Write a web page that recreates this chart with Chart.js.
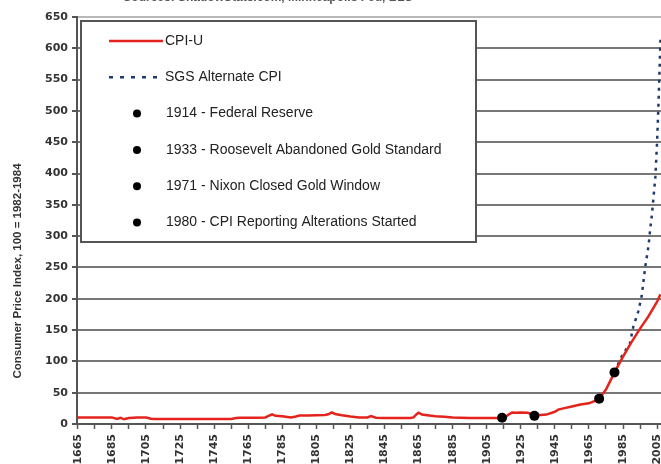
<!DOCTYPE html>
<html>
<head>
<meta charset="utf-8">
<script src="https://cdn.jsdelivr.net/npm/chart.js@4.4.1/dist/chart.umd.min.js"></script>
<style>
html, body { margin: 0; padding: 0; background: #fff; overflow: hidden; }
#wrap { width: 661px; height: 464px; position: relative; overflow: hidden; }
</style>
</head>
<body>
<div id="wrap"><canvas id="chart" width="666" height="464"></canvas></div>
<script>
// CPI-U, 100 = 1982-1984
var cpiYears = [1665, 1670, 1675, 1680, 1685, 1688, 1690, 1692, 1695, 1700, 1705, 1708, 1710, 1720, 1730, 1740,
	1750, 1755, 1758, 1760, 1765, 1770, 1775, 1777, 1779, 1781, 1785, 1790, 1793, 1795, 1800, 1805, 1810, 1812,
	1814, 1816, 1820, 1825, 1830, 1835, 1837, 1840, 1845, 1850, 1855, 1860, 1862, 1864, 1865, 1867, 1870, 1875,
	1880, 1885, 1890, 1895, 1900, 1905, 1910, 1914, 1916, 1918, 1920, 1922, 1925, 1929, 1931, 1933, 1935, 1940,
	1945, 1947, 1950, 1955, 1960, 1965, 1970, 1971, 1975, 1980, 1985, 1990, 1995, 2000, 2005, 2007];
var cpiValues = [10.5, 10.5, 10.5, 10.5, 10.5, 8, 10, 7.5, 9.5, 10.5, 10.5, 8.5, 8, 8, 8, 8,
	8, 8, 9.5, 10, 10, 10, 10.5, 13, 15.5, 13, 12.5, 10.5, 12, 13.5, 13.5, 14, 14.5, 15.5,
	18.5, 16, 14, 12, 10.5, 10.5, 12.5, 10, 9.5, 9.5, 9.5, 9.5, 10.5, 16, 18, 15, 14, 12.5,
	11.5, 10.5, 10, 9.5, 9.5, 9.5, 9.5, 10, 11, 15.5, 18.5, 18, 18.5, 18, 16, 13, 14, 15,
	19.5, 23, 25, 28, 31, 33, 38.5, 40.5, 55, 82.4, 107.6, 130.7, 152.4, 172.2, 195.3, 207.3];

// SGS Alternate CPI
var sgsYears = [1980, 1983, 1985, 1987, 1989, 1991, 1994, 1996, 1998, 2000, 2001, 2002, 2003, 2004, 2005, 2006, 2007];
var sgsValues = [82.4, 101, 112, 120, 128, 155, 180, 205, 250, 285, 312, 335, 365, 395, 450, 525, 615];

// marked events
var eventYears = [1914, 1933, 1971, 1980];
var eventValues = [10, 13, 40.5, 82.4];
var eventNames = ['1914 - Federal Reserve', '1933 - Roosevelt Abandoned Gold Standard',
	'1971 - Nixon Closed Gold Window', '1980 - CPI Reporting Alterations Started'];

// axis ticks
var tickYears = [1665, 1675, 1685, 1695, 1705, 1715, 1725, 1735, 1745, 1755, 1765, 1775, 1785, 1795, 1805,
	1815, 1825, 1835, 1845, 1855, 1865, 1875, 1885, 1895, 1905, 1915, 1925, 1935, 1945, 1955, 1965, 1975,
	1985, 1995, 2005];
var tickLabels = ['1665', '1685', '1705', '1725', '1745', '1765', '1785', '1805', '1825', '1845', '1865',
	'1885', '1905', '1925', '1945', '1965', '1985', '2005'];

var sourceText = 'Sources: ShadowStats.com, Minneapolis Fed, BLS';
var yTitle = 'Consumer Price Index, 100 = 1982-1984';

var toPoints = function(xs, ys) {
	return xs.map(function(x, i) { return {x: x, y: ys[i]}; });
};

var datasets = [
	{label: 'CPI-U', data: toPoints(cpiYears, cpiValues), borderColor: '#e3231c', borderWidth: 2.5,
		pointRadius: 0, order: 2, legendType: 'line'},
	{label: 'SGS Alternate CPI', data: toPoints(sgsYears, sgsValues), borderColor: '#1d3b6e', borderWidth: 2.5,
		borderDash: [3, 5], pointRadius: 0, order: 3, legendType: 'dash'}
];
eventYears.forEach(function(yr, i) {
	datasets.push({label: eventNames[i], data: [{x: yr, y: eventValues[i]}], showLine: false,
		pointRadius: 5, pointBackgroundColor: '#000', pointBorderWidth: 0, order: 1, legendType: 'dot'});
});

var decor = {
	id: 'decor',
	afterDraw: function(chart) {
		var ctx = chart.ctx, area = chart.chartArea;
		ctx.save();
		// source line, cut off at the top
		ctx.fillStyle = '#555';
		ctx.font = 'bold 12px "Liberation Sans", Arial, sans-serif';
		ctx.textAlign = 'center';
		ctx.textBaseline = 'middle';
		ctx.fillText(sourceText, 268, -2);

		// y axis title
		ctx.translate(18, 271);
		ctx.rotate(-Math.PI / 2);
		ctx.fillStyle = '#333';
		ctx.font = 'bold 11.5px "Liberation Sans", Arial, sans-serif';
		ctx.fillText(yTitle, 0, 0);
		ctx.restore();

		// legend box
		var bx = area.left + 4, by = area.top + 4, bw = 395, bh = 221;
		ctx.save();
		ctx.fillStyle = '#fff';
		ctx.fillRect(bx, by, bw, bh);
		ctx.strokeStyle = '#555';
		ctx.lineWidth = 2;
		ctx.strokeRect(bx, by, bw, bh);
		ctx.font = '14px "Liberation Sans", Arial, sans-serif';
		ctx.textAlign = 'left';
		ctx.textBaseline = 'middle';
		chart.data.datasets.forEach(function(ds, i) {
			var y = by + 20 + i * 36.3;
			if (ds.legendType === 'dot') {
				ctx.fillStyle = '#000';
				ctx.beginPath();
				ctx.arc(bx + 56, y, 4, 0, Math.PI * 2);
				ctx.fill();
			} else {
				ctx.strokeStyle = ds.borderColor;
				ctx.lineWidth = 2.5;
				ctx.setLineDash(ds.legendType === 'dash' ? [4, 7] : []);
				ctx.beginPath();
				ctx.moveTo(bx + 28, y);
				ctx.lineTo(bx + 82, y);
				ctx.stroke();
				ctx.setLineDash([]);
			}
			ctx.fillStyle = '#222';
			ctx.fillText(ds.label, ds.legendType === 'dot' ? bx + 85 : bx + 84, y);
		});
		ctx.restore();
	}
};

var ctx = document.getElementById('chart').getContext('2d');
window.cpiChart = new Chart(ctx, {
	type: 'line',
	data: {datasets: datasets},
	options: {
		responsive: false,
		animation: false,
		layout: {padding: {top: 17, left: 0, right: 0, bottom: 0}},
		plugins: {legend: {display: false}, tooltip: {enabled: false}, title: {display: false}},
		scales: {
			x: {
				type: 'linear',
				min: 1664.5,
				max: 2007.3,
				afterBuildTicks: function(scale) {
					scale.ticks = tickYears.map(function(v) { return {value: v}; });
				},
				afterFit: function(scale) {
					scale.height = 40;
					scale.paddingLeft = 0;
					scale.paddingRight = 0;
				},
				ticks: {
					autoSkip: false,
					maxRotation: 90,
					minRotation: 90,
					padding: 5,
					color: '#333',
					font: {family: '"DejaVu Sans", sans-serif', weight: 'bold', size: 11},
					callback: function(v) {
						var s = String(v);
						return tickLabels.indexOf(s) >= 0 ? s : '';
					}
				},
				grid: {drawOnChartArea: false, drawTicks: true, tickLength: 5, tickColor: '#555', tickWidth: 1.5},
				border: {display: true, color: '#555', width: 2}
			},
			y: {
				min: 0,
				max: 650,
				afterFit: function(scale) { scale.width = 77; },
				ticks: {
					stepSize: 50,
					padding: 4,
					color: '#333',
					font: {family: '"DejaVu Sans", sans-serif', weight: 'bold', size: 11}
				},
				grid: {
					color: function(c) { return c.tick && c.tick.value === 650 ? '#b8b8b8' : '#777'; },
					lineWidth: 2,
					tickLength: 5,
					tickColor: '#555'
				},
				border: {display: true, color: '#555', width: 2}
			}
		}
	},
	plugins: [decor]
});
</script>
</body>
</html>
